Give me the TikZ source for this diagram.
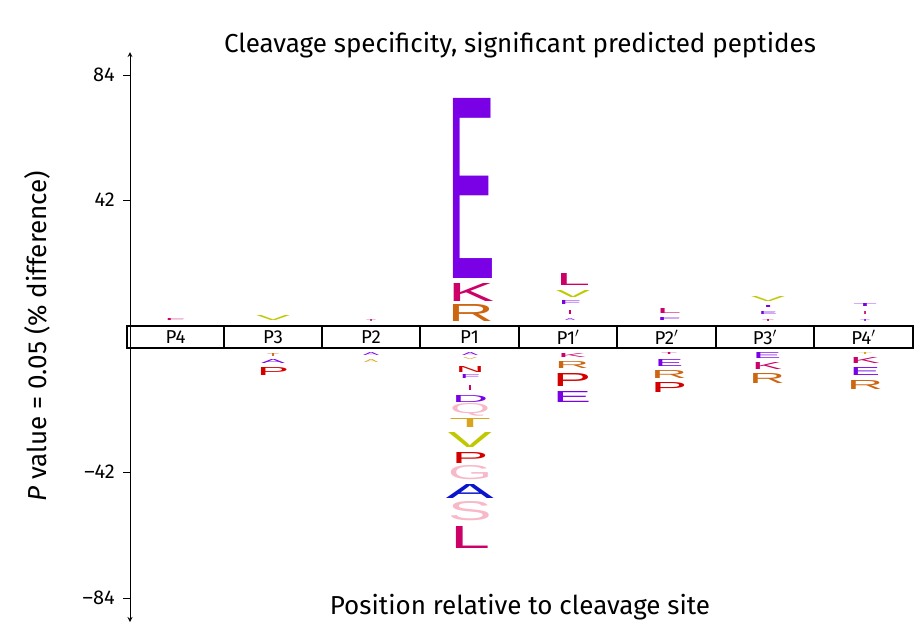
\documentclass[tikz,border=0pt]{standalone}
\usepackage{graphicx}
\usepackage{fontspec}
\setmainfont{Fira Sans}
\newfontfamily\logofont{Liberation Sans}
\newdimen\pxu \pxu=0.75pt
\definecolor{cpur}{HTML}{7A00E6}
\definecolor{cmag}{HTML}{CC0066}
\definecolor{cora}{HTML}{CC6611}
\definecolor{cred}{HTML}{D40000}
\definecolor{cyg}{HTML}{BFC800}
\definecolor{cpink}{HTML}{F7B8C8}
\definecolor{cblu}{HTML}{0A14CC}
\definecolor{cgold}{HTML}{D9A520}
\newcommand{\lgl}[6]{\node[inner sep=0,text=#5] at (#1,{#2+#3/2}) {\resizebox{#4\pxu}{#3\pxu}{\logofont #6}};}
\begin{document}
\begin{tikzpicture}[x=0.75pt,y=-0.75pt,
  lab/.style={font=\fontsize{15}{17}\selectfont,anchor=east,inner sep=0},
  big/.style={font=\fontsize{19.5}{22}\selectfont},
  cell/.style={draw=black,line width=0.8pt,minimum height=22\pxu,inner sep=0,font=\fontsize{14}{16}\selectfont}]
\useasboundingbox (0,0) rectangle (924,633);
\node[big] (title) at (520,45) {Cleavage specificity, significant predicted peptides};
\node[big] (xl) at (520,607) {Position relative to cleavage site};
\node[big,rotate=90] (yl) at (37,336) {\textit{P} value = 0.05 (\% difference)};
\coordinate (ytop) at (130,52);
\coordinate (ybot) at (130,622);
\draw[-stealth,line width=0.7pt] (130,336) -- (ytop);
\draw[-stealth,line width=0.7pt] (130,336) -- (ybot);
\foreach \y/\t in {75/84,200/42,472/--42,598/--84}{
  \draw[line width=0.7pt] (123,\y) -- (130,\y);
  \node[lab] at (115,\y) {\t};}
% band
\foreach \a/\b/\t [count=\i] in {127/224/P4,224/322/P3,322/420/P2,420/519/P1,519/617/P1$'$,617/716/P2$'$,716/814/P3$'$,814/913/P4$'$}{
  \node[cell,minimum width={(\b-\a)*\pxu}] (c\i) at ({(\a+\b)/2},337) {\t};}
% above
\lgl{471}{98}{180}{48}{cpur}{E}
\lgl{471}{283}{18}{46}{cmag}{K}
\lgl{471}{304}{17}{46}{cora}{R}
\lgl{573}{273}{12}{34}{cmag}{L}
\lgl{573}{290}{7}{34}{cyg}{V}
\lgl{570}{300}{4}{22}{cpur}{F}
\lgl{570}{310}{4}{6}{cmag}{I}
\lgl{570}{318}{2}{10}{cpur}{A}
\lgl{669}{308}{5}{24}{cmag}{L}
\lgl{669}{317}{3}{24}{cpur}{F}
\lgl{768}{296}{5}{34}{cyg}{V}
\lgl{768}{305}{2}{12}{cpur}{I}
\lgl{768}{311}{3}{18}{cpur}{E}
\lgl{768}{319}{2}{12}{cmag}{T}
\lgl{865}{303}{3}{24}{cpur}{T}
\lgl{865}{311}{3}{5}{cmag}{I}
\lgl{865}{319}{2}{10}{cpur}{T}
\lgl{175}{318}{2}{20}{cmag}{F}
\lgl{273}{315}{5}{34}{cyg}{V}
\lgl{371}{319}{2}{10}{cmag}{T}
% below
\lgl{470}{352}{3}{16}{cpur}{A}
\lgl{470}{357}{2}{14}{cgold}{V}
\lgl{470}{366}{6}{28}{cred}{N}
\lgl{470}{374}{4}{20}{cpur}{F}
\lgl{470}{385}{5}{6}{cmag}{I}
\lgl{470}{395}{7}{36}{cpur}{D}
\lgl{470}{405}{10}{40}{cpink}{Q}
\lgl{470}{418}{9}{42}{cgold}{T}
\lgl{470}{432}{15}{44}{cyg}{V}
\lgl{470}{452}{11}{36}{cred}{P}
\lgl{470}{466}{14}{44}{cpink}{G}
\lgl{470}{484}{14}{48}{cblu}{A}
\lgl{470}{502}{19}{44}{cpink}{S}
\lgl{470}{526}{22}{40}{cmag}{L}
\lgl{572}{353}{4}{28}{cmag}{K}
\lgl{572}{361}{7}{34}{cora}{R}
\lgl{572}{373}{13}{38}{cred}{P}
\lgl{572}{391}{11}{38}{cpur}{E}
\lgl{669}{352}{2}{16}{cmag}{T}
\lgl{669}{359}{7}{28}{cpur}{E}
\lgl{669}{370}{8}{36}{cora}{R}
\lgl{669}{382}{10}{36}{cred}{P}
\lgl{767}{352}{6}{28}{cpur}{E}
\lgl{767}{362}{7}{30}{cmag}{K}
\lgl{767}{373}{10}{36}{cora}{R}
\lgl{865}{352}{2}{14}{cgold}{T}
\lgl{865}{357}{6}{30}{cmag}{K}
\lgl{865}{367}{8}{30}{cpur}{E}
\lgl{865}{380}{9}{36}{cora}{R}
\lgl{273}{353}{3}{12}{cora}{T}
\lgl{273}{359}{4}{24}{cpur}{A}
\lgl{273}{367}{8}{32}{cred}{P}
\lgl{371}{352}{3}{16}{cpur}{A}
\lgl{371}{359}{3}{14}{cgold}{A}
\end{tikzpicture}
\end{document}
